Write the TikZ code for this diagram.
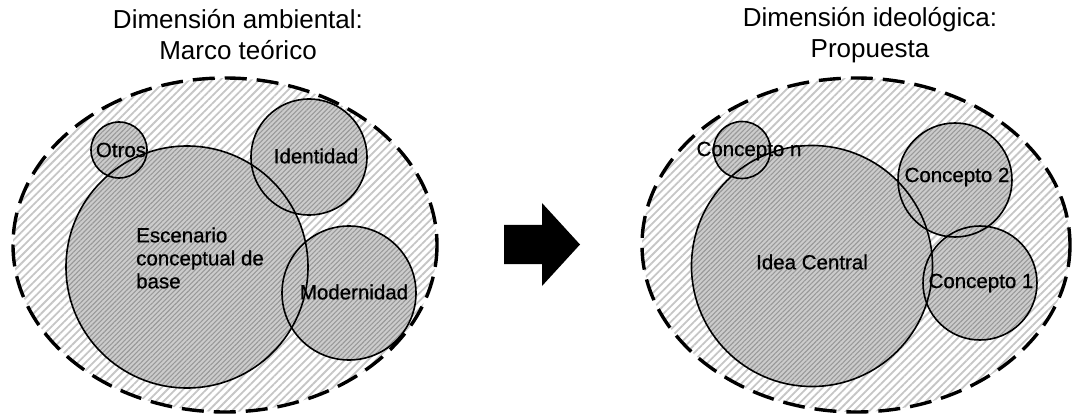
\documentclass[tikz,border=0pt]{standalone}
\usepackage{fontspec}
\setmainfont{Liberation Sans}
\newfontfamily\labelfont[FakeBold=0.7]{Liberation Sans}
\usetikzlibrary{patterns.meta}
\begin{document}
\begin{tikzpicture}[x=1pt,y=-1pt,
  field/.style={pattern={Lines[angle=45,distance=5.5pt,line width=1.8pt]},pattern color=gray!45},
  fieldedge/.style={draw=black,line width=3.4pt,dash pattern=on 22pt off 10pt},
  bubblefill/.style={preaction={fill=gray!40},pattern={Lines[angle=45,distance=3.4pt,line width=1.1pt]},pattern color=gray!80},
  bubbleedge/.style={draw=black,line width=1.6pt},
  title/.style={font=\fontsize{26}{31}\selectfont,align=center,text=black},
  lbl/.style={font=\labelfont\fontsize{20.5}{23}\selectfont,text=black,inner sep=0pt}]
\useasboundingbox (0,0) rectangle (1072,417);

% ---------- left group: background field ----------
\path[field] (225,245) ellipse [x radius=212,y radius=167];
\path[bubblefill] (119,150) circle [radius=28];
\path[bubblefill] (309,157) circle [radius=58];
\path[bubblefill] (187,267) circle [radius=121];
\path[bubblefill] (349,293) circle [radius=67];
\draw[bubbleedge] (119,150) circle [radius=28];
\draw[bubbleedge] (309,157) circle [radius=58];
\draw[bubbleedge] (187,267) circle [radius=121];
\draw[bubbleedge] (349,293) circle [radius=67];
\draw[fieldedge] (225,245) ellipse [x radius=212,y radius=167];

% ---------- right group ----------
\path[field] (856,245) ellipse [x radius=214,y radius=167];
\path[bubblefill] (742,150) circle [radius=28.5];
\path[bubblefill] (955,180) circle [radius=57];
\path[bubblefill] (812,266) circle [radius=120.5];
\path[bubblefill] (980,283) circle [radius=57];
\draw[bubbleedge] (742,150) circle [radius=28.5];
\draw[bubbleedge] (955,180) circle [radius=57];
\draw[bubbleedge] (812,266) circle [radius=120.5];
\draw[bubbleedge] (980,283) circle [radius=57];
\draw[fieldedge] (856,245) ellipse [x radius=214,y radius=167];

% ---------- titles ----------
\node[title] (tleft) at (238,35) {Dimensión ambiental:\\Marco teórico};
\node[title] (tright) at (870,35) {Dimensión ideológica:\\Propuesta};

% ---------- labels ----------
\node[lbl] (otros) at (121,150) {Otros};
\node[lbl] (ident) at (316,156) {Identidad};
\node[lbl,anchor=west,align=left] (escen) at (136,258) {Escenario\\conceptual de\\base};
\node[lbl] (modern) at (354,292) {Modernidad};
\node[lbl] (cn) at (749,151) {Concepto n};
\node[lbl] (c2) at (957,177) {Concepto 2};
\node[lbl] (idea) at (812,262) {Idea Central};
\node[lbl] (c1) at (981,283) {Concepto 1};

% ---------- block arrow ----------
\fill[black] (504,225) -- (542,225) -- (542,203) -- (580,244.5) -- (542,286) -- (542,264) -- (504,264) -- cycle;
\end{tikzpicture}
\end{document}
